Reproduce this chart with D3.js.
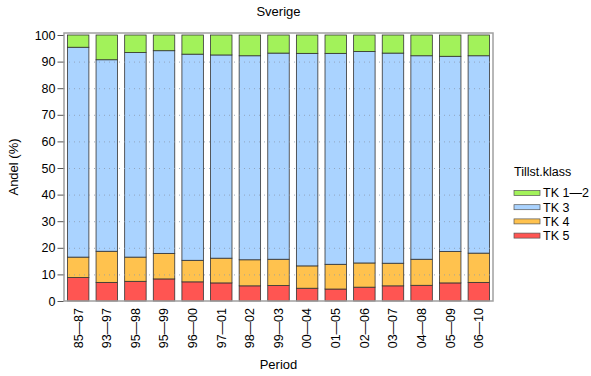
<!DOCTYPE html>
<html>
<head>
<meta charset="utf-8">
<script src="https://cdn.jsdelivr.net/npm/d3@7"></script>
<style>
  body { margin: 0; background: #fff; }
  text { font-family: "Liberation Sans", Arial, sans-serif; fill: #000; }
</style>
</head>
<body>
<svg id="chart" width="591" height="376"></svg>
<script>
// periods along the x axis
var periods = ["85\u201487", "93\u201497", "95\u201498", "95\u201499", "96\u201400", "97\u201401", "98\u201402",
    "99\u201403", "00\u201404", "01\u201405", "02\u201406", "03\u201407", "04\u201408", "05\u201409", "06\u201410"];

// share (%) per class
var tk5  = [8.8, 7.0, 7.4, 8.3, 7.2, 6.8, 5.7, 5.8, 4.8, 4.5, 5.2, 5.7, 5.9, 6.8, 7.0];
var tk4  = [7.7, 11.7, 9.1, 9.6, 8.1, 9.3, 9.8, 9.9, 8.4, 9.3, 9.1, 8.5, 9.8, 11.8, 11.0];
var tk3  = [78.9, 72.0, 76.9, 76.2, 77.5, 76.4, 76.7, 77.5, 79.9, 79.3, 79.5, 79.0, 76.5, 73.4, 74.2];
var tk12 = periods.map(function(p, i) { return 100 - tk5[i] - tk4[i] - tk3[i]; });

var yTicks = [0, 10, 20, 30, 40, 50, 60, 70, 80, 90, 100];
var classes = ["TK 5", "TK 4", "TK 3", "TK 1\u20142"];
var colors = {"TK 5": "#ff5552", "TK 4": "#ffc24e", "TK 3": "#aad3ff", "TK 1\u20142": "#a2f25a"};

var svg = d3.select("#chart");
var mLeft = 64, mRight = 493, mTop = 33, mBottom = 301;

var rows = periods.map(function(p, i) {
    return {period: p, "TK 5": tk5[i], "TK 4": tk4[i], "TK 3": tk3[i], "TK 1\u20142": tk12[i]};
});
var series = d3.stack().keys(classes)(rows);

var x = d3.scaleBand().domain(periods).range([mLeft + 2, mRight - 2]).paddingInner(0.25).paddingOuter(0.05);
var y = d3.scaleLinear().domain([0, 100]).range([mBottom, 35]);

// bars
svg.append("g").selectAll("g")
    .data(series)
    .enter().append("g")
    .attr("fill", function(d) { return colors[d.key]; })
    .selectAll("rect")
    .data(function(d) { return d; })
    .enter().append("rect")
    .attr("x", function(d) { return x(d.data.period); })
    .attr("width", x.bandwidth())
    .attr("y", function(d) { return y(d[1]); })
    .attr("height", function(d) { return y(d[0]) - y(d[1]); })
    .attr("stroke", "#333")
    .attr("stroke-width", 0.8);

// dotted grid
svg.append("g").selectAll("line")
    .data(yTicks.filter(function(t) { return t > 0 && t < 100; }))
    .enter().append("line")
    .attr("x1", mLeft).attr("x2", mRight)
    .attr("y1", function(d) { return y(d) + 0.5; })
    .attr("y2", function(d) { return y(d) + 0.5; })
    .attr("stroke", "#8d9bb0")
    .attr("stroke-width", 1)
    .attr("stroke-dasharray", "1,4")
    .attr("opacity", 0.8);

// panel border
svg.append("rect")
    .attr("x", mLeft).attr("y", mTop)
    .attr("width", mRight - mLeft).attr("height", mBottom - mTop)
    .attr("fill", "none").attr("stroke", "#a0a0a0").attr("stroke-width", 1.5);

// y axis
var yAxis = d3.axisLeft(y).tickValues(yTicks).tickSize(6).tickPadding(2);
var gy = svg.append("g").attr("transform", "translate(" + (mLeft - 0.5) + ",0)").call(yAxis);
gy.select(".domain").remove();
gy.selectAll(".tick line").attr("stroke", "#555");
gy.selectAll("text").style("font-size", "12.5px").style("font-family", "Liberation Sans, Arial, sans-serif");

// x axis labels
var xAxis = d3.axisBottom(x).tickSize(0).tickPadding(0);
var gx = svg.append("g").attr("transform", "translate(0," + mBottom + ")").call(xAxis);
gx.select(".domain").remove();
gx.selectAll("text")
    .style("font-size", "12.5px")
    .style("font-family", "Liberation Sans, Arial, sans-serif")
    .attr("text-anchor", "end")
    .attr("dy", "0.35em")
    .attr("transform", "translate(0,7) rotate(-90)");

// titles
svg.append("text").attr("x", (mLeft + mRight) / 2).attr("y", 16)
    .attr("text-anchor", "middle").style("font-size", "13px").text("Sverige");
svg.append("text").attr("x", (mLeft + mRight) / 2).attr("y", 369)
    .attr("text-anchor", "middle").style("font-size", "13px").text("Period");
svg.append("text").attr("transform", "translate(18," + ((mTop + mBottom) / 2) + ") rotate(-90)")
    .attr("text-anchor", "middle").style("font-size", "13px").text("Andel (%)");

// legend
var legend = svg.append("g").attr("transform", "translate(514,176)");
legend.append("text").attr("x", 0).attr("y", 0).style("font-size", "12.5px").text("Tillst.klass");
var items = legend.selectAll(".item")
    .data(classes.slice().reverse())
    .enter().append("g")
    .attr("transform", function(d, i) { return "translate(0," + (17 + i * 14.2) + ")"; });
items.append("rect")
    .attr("x", 0).attr("y", -2.5).attr("width", 26).attr("height", 5)
    .attr("fill", function(d) { return colors[d]; })
    .attr("stroke", "#555").attr("stroke-width", 0.7);
items.append("text")
    .attr("x", 29).attr("y", 0).attr("dy", "0.35em")
    .style("font-size", "12.5px")
    .text(function(d) { return d; });
</script>
</body>
</html>
